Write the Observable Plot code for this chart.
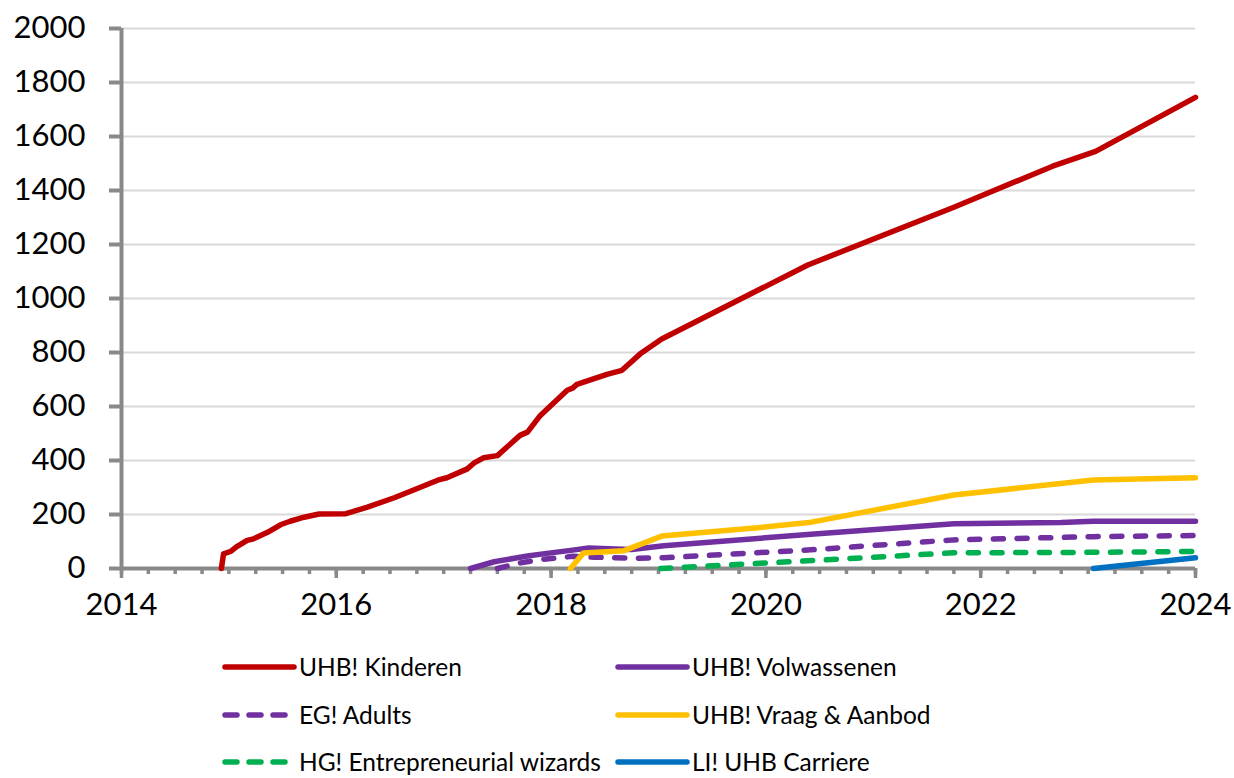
<!DOCTYPE html>
<html><head><meta charset="utf-8">
<script src="https://cdn.jsdelivr.net/npm/d3@7"></script>
<script src="https://cdn.jsdelivr.net/npm/@observablehq/plot@0.6"></script>
<style>
body{margin:0;background:#fff;font-family:Lato, "Open Sans", sans-serif;}
#wrap{position:relative;width:1234px;height:778px;overflow:hidden;}
.item{position:absolute;display:flex;align-items:center;font-size:24.5px;line-height:24px;color:#000;white-space:nowrap;height:24px;}
.item svg{display:block;}
</style></head><body>
<div id="wrap"><div id="chart"></div></div>
<script>
// ---- data (decimal year, value) ----
const kinderen = [[2014.93,0],[2014.95,54],[2015.02,64],[2015.07,80],[2015.17,104],[2015.23,110],[2015.36,134],[2015.48,162],[2015.57,175],[2015.70,190],[2015.84,202],[2016.09,203],[2016.29,227],[2016.54,262],[2016.72,291],[2016.95,328],[2017.03,336],[2017.22,369],[2017.28,390],[2017.37,410],[2017.50,418],[2017.71,493],[2017.78,505],[2017.90,567],[2018.15,660],[2018.20,668],[2018.24,682],[2018.52,719],[2018.66,734],[2018.83,795],[2019.03,850],[2020.39,1124],[2021.75,1338],[2022.67,1490],[2023.07,1545],[2024,1745]];
const volwassenen = [[2017.25,0],[2017.47,25],[2017.78,46],[2017.96,56],[2018.2,68],[2018.35,76],[2018.6,72],[2018.75,70],[2019.05,84],[2020.45,128],[2021.75,166],[2022.75,170],[2023.05,175],[2024,175]];
const adults = [[2017.5,0],[2017.7,20],[2017.9,33],[2018.2,45],[2018.4,42],[2018.8,38],[2019.05,40],[2020.45,70],[2021.75,106],[2023.05,118],[2024,122]];
const vraagAanbod = [[2018.18,0],[2018.30,57],[2018.68,66],[2019.03,120],[2019.95,152],[2020.4,170],[2021.75,272],[2023.05,328],[2024,336]];
const wizards = [[2019.02,0],[2020.45,30],[2021.75,58],[2023.05,60],[2024,63]];
const carriere = [[2023.05,0],[2024,40]];

const seriesNames = ["UHB! Kinderen","UHB! Volwassenen","EG! Adults","UHB! Vraag & Aanbod","HG! Entrepreneurial wizards","LI! UHB Carriere"];
const seriesData = [kinderen, volwassenen, adults, vraagAanbod, wizards, carriere];
const seriesColors = ["#C00000","#7030A0","#7030A0","#FFC000","#00B050","#0070C0"];
const seriesDashed = [false,false,true,false,true,false];

const yTicks = [0,200,400,600,800,1000,1200,1400,1600,1800,2000];
const xMajorTicks = [2014,2016,2018,2020,2022,2024];
const xMinorTicks = d3.range(0,41).map(i => 2014 + i*0.25);

const axisGrey = "#898989";
const dash = "10,13.7";

const lineMarks = seriesData.map((data, i) => Plot.line(data, {
  x: d => d[0], y: d => d[1], stroke: seriesColors[i], strokeWidth: 5.5,
  strokeLinecap: "round", strokeLinejoin: "round",
  strokeDasharray: seriesDashed[i] ? dash : null
}));

const chart = Plot.plot({
  width: 1234, height: 640,
  marginLeft: 121, marginRight: 39, marginTop: 28, marginBottom: 72,
  style: {fontFamily: "Lato, 'Open Sans', sans-serif", fontSize: "31px", color: "#000", background: "#fff"},
  x: {domain: [2014, 2024]},
  y: {domain: [0, 2000]},
  marks: [
    Plot.gridY(yTicks.slice(1), {stroke: "#d9d9d9", strokeOpacity: 1, strokeWidth: 2}),
    Plot.axisY(yTicks, {tickSize: 12, tickPadding: 24, stroke: axisGrey, strokeWidth: 4, fontSize: 31, label: null, tickFormat: d => String(d)}),
    Plot.axisX(xMinorTicks, {tickSize: 6, stroke: axisGrey, strokeWidth: 3.5, tickFormat: () => "", label: null}),
    Plot.axisX(xMajorTicks, {tickSize: 10, tickPadding: 14, stroke: axisGrey, strokeWidth: 3.5, fontSize: 31, label: null, tickFormat: d => String(d)}),
    Plot.ruleX([2014], {stroke: axisGrey, strokeWidth: 4}),
    Plot.ruleY([0], {stroke: axisGrey, strokeWidth: 4}),
    ...lineMarks
  ]
});
document.getElementById("chart").appendChild(chart);

// ---- legend ----
const wrap = document.getElementById("wrap");
const colLeft = [221, 614];
const rowCenter = [667, 715, 762];
seriesNames.forEach((name, i) => {
  const col = i % 2, row = Math.floor(i / 2);
  const item = document.createElement("div");
  item.className = "item";
  item.style.left = colLeft[col] + "px";
  item.style.top = (rowCenter[row] - 12) + "px";
  const ns = "http://www.w3.org/2000/svg";
  const svg = document.createElementNS(ns, "svg");
  svg.setAttribute("width", 78); svg.setAttribute("height", 24);
  const ln = document.createElementNS(ns, "line");
  ln.setAttribute("x1", 4); ln.setAttribute("x2", 73);
  ln.setAttribute("y1", 12); ln.setAttribute("y2", 12);
  ln.setAttribute("stroke", seriesColors[i]);
  ln.setAttribute("stroke-width", 5.5);
  ln.setAttribute("stroke-linecap", "round");
  if (seriesDashed[i]) ln.setAttribute("stroke-dasharray", "12,12");
  svg.appendChild(ln);
  item.appendChild(svg);
  const span = document.createElement("span");
  span.textContent = name;
  item.appendChild(span);
  wrap.appendChild(item);
});
</script>
</body></html>
